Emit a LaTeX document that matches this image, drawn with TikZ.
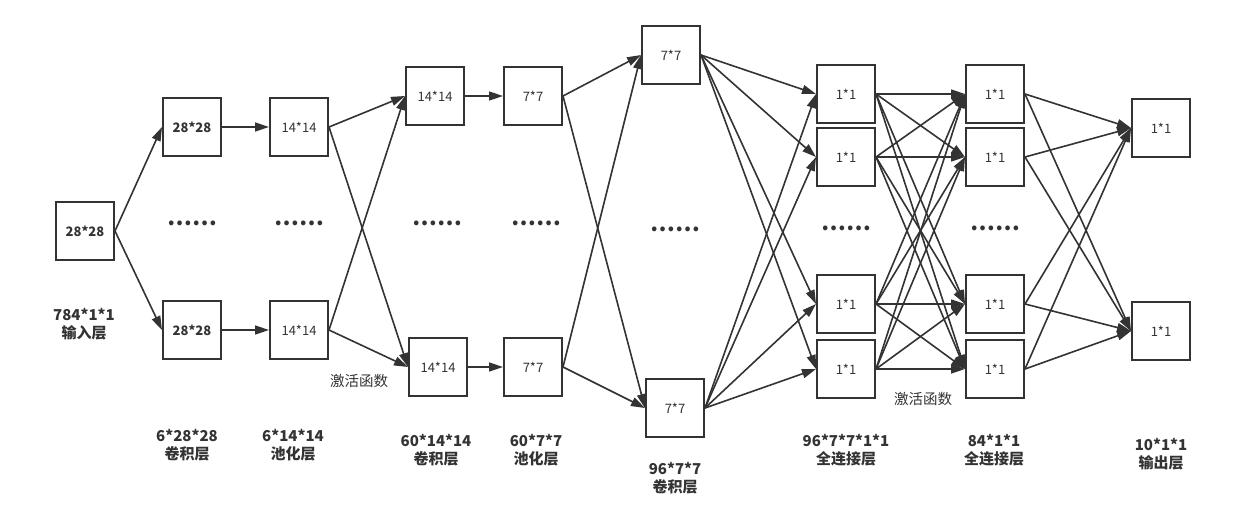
\documentclass[tikz,border=0pt]{standalone}
\usepackage{fontspec}
\setmainfont{Noto Sans CJK SC}
\usetikzlibrary{arrows.meta}
\definecolor{ink}{HTML}{333333}
\tikzset{
  cell/.style={draw=ink,line width=2pt,minimum size=58pt,inner sep=0pt,text=ink,font=\fontsize{13}{16}\selectfont},
  link/.style={draw=ink,line width=1.6pt,-{Triangle[length=14pt,width=9pt]}},
  lbl/.style={align=center,text=ink,font=\fontsize{15}{18}\selectfont\bfseries},
  act/.style={text=ink,font=\fontsize{14.5}{16}\selectfont},
  more/.style={text=ink,inner sep=0pt,font=\fontsize{22}{22}\selectfont\bfseries}
}
\begin{document}
\begin{tikzpicture}[x=1pt,y=-1pt]
			\useasboundingbox (0,0) rectangle (1246,525);
			% Capas
			\node[cell,font=\fontsize{13}{16}\selectfont\bfseries] (in) at (85,231) {28*28};
			\node[cell,font=\fontsize{13}{16}\selectfont\bfseries] (c1a) at (192,127) {28*28};
			\node[cell,font=\fontsize{13}{16}\selectfont\bfseries] (c1b) at (192,330) {28*28};
			\node[cell] (p1a) at (299,127) {14*14};
			\node[cell] (p1b) at (299,330) {14*14};
			\node[cell] (c2a) at (435,96) {14*14};
			\node[cell] (c2b) at (438,367) {14*14};
			\node[cell] (p2a) at (533,96) {7*7};
			\node[cell] (p2b) at (533,367) {7*7};
			\node[cell] (c3a) at (671,55) {7*7};
			\node[cell] (c3b) at (675,408) {7*7};
			\foreach \n/\y in {a/94,b/157,c/304,d/369}{
				\node[cell] (f1\n) at (846,\y) {1*1};
				\node[cell] (f2\n) at (995,\y) {1*1};
			}
			\node[cell] (oa) at (1161,128) {1*1};
			\node[cell] (ob) at (1161,331) {1*1};

			% Puntos
			\node[more] (d1) at (192,223) {……};
			\node[more] (d2) at (299,223) {……};
			\node[more] (d3) at (437,223) {……};
			\node[more] (d4) at (536,223) {……};
			\node[more] (d5) at (675,229) {……};
			\node[more] (d6) at (846,228) {……};
			\node[more] (d7) at (995,228) {……};

			% Conexiones
			\draw[link] (in.east) -- (c1a.west);
			\draw[link] (in.east) -- (c1b.west);
			\draw[link] (c1a.east) -- (p1a.west);
			\draw[link] (c1b.east) -- (p1b.west);
			\foreach \s in {p1a,p1b}{
				\draw[link] (\s.east) -- (c2a.west);
				\draw[link] (\s.east) -- (c2b.west);
			}
			\draw[link] (c2a.east) -- (p2a.west);
			\draw[link] (c2b.east) -- (p2b.west);
			\foreach \s in {p2a,p2b}{
				\draw[link] (\s.east) -- (c3a.west);
				\draw[link] (\s.east) -- (c3b.west);
			}
			\foreach \s in {c3a,c3b}
				\foreach \t in {a,b,c,d}
					\draw[link] (\s.east) -- (f1\t.west);
			\foreach \s in {a,b,c,d}
				\foreach \t in {a,b,c,d}
					\draw[link] (f1\s.east) -- (f2\t.west);
			\foreach \s in {a,b,c,d}{
				\draw[link] (f2\s.east) -- (oa.west);
				\draw[link] (f2\s.east) -- (ob.west);
			}

			% Etiquetas
			\node[act] (act1) at (359,381) {激活函数};
			\node[act] (act2) at (923,399) {激活函数};
			\node[lbl] (l0) at (84,324) {784*1*1\\输入层};
			\node[lbl] (l1) at (187,445.5) {6*28*28\\卷积层};
			\node[lbl] (l2) at (293,445.5) {6*14*14\\池化层};
			\node[lbl] (l3) at (436,450) {60*14*14\\卷积层};
			\node[lbl] (l4) at (536,450) {60*7*7\\池化层};
			\node[lbl] (l5) at (675,478.5) {96*7*7\\卷积层};
			\node[lbl] (l6) at (846,450.5) {96*7*7*1*1\\全连接层};
			\node[lbl] (l7) at (994,450.5) {84*1*1\\全连接层};
			\node[lbl] (l8) at (1161,454) {10*1*1\\输出层};
\end{tikzpicture}
\end{document}
